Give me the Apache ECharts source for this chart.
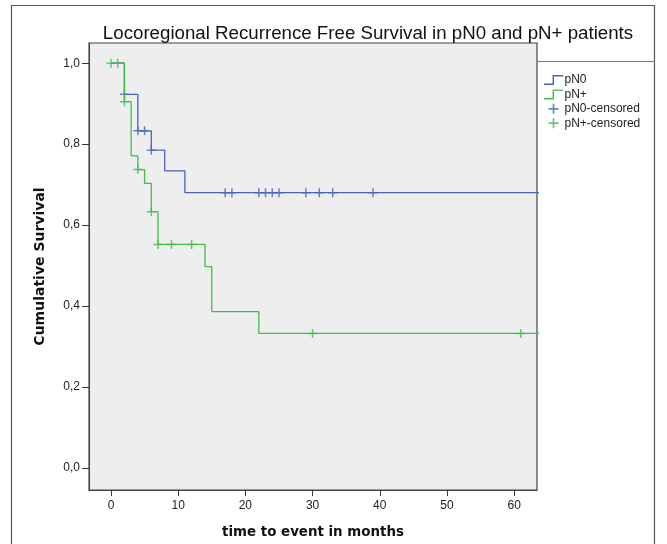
<!DOCTYPE html>
<html>
<head>
<meta charset="utf-8">
<script src="https://cdn.jsdelivr.net/npm/echarts@6/dist/echarts.min.js"></script>
<style>
  html, body { margin: 0; padding: 0; background: #ffffff; }
  #chart { width: 667px; height: 544px; }
</style>
</head>
<body>
<div id="chart"></div>
<script>
// Kaplan-Meier step points: [months, cumulative survival]
const pN0Steps = [[0, 1.0], [2, 0.923], [4, 0.833], [6, 0.785], [8, 0.734], [11, 0.680], [64, 0.680]];
const pNplusSteps = [[0, 1.0], [2, 0.905], [3, 0.771], [4, 0.737], [5, 0.703], [6, 0.633], [7, 0.552], [14, 0.497], [15, 0.386], [22, 0.332], [64, 0.332]];

// Censored observations
const pN0Censored = [[2, 0.923], [4, 0.833], [5, 0.833], [6, 0.785], [17, 0.680], [18, 0.680], [22, 0.680], [23, 0.680], [24, 0.680], [25, 0.680], [29, 0.680], [31, 0.680], [33, 0.680], [39, 0.680]];
const pNplusCensored = [[0, 1.0], [1, 1.0], [2, 0.905], [4, 0.737], [6, 0.633], [7, 0.552], [9, 0.552], [12, 0.552], [30, 0.332], [61, 0.332]];

const xTicks = [0, 10, 20, 30, 40, 50, 60];
const yTicks = [0, 0.2, 0.4, 0.6, 0.8, 1.0];

const blue = '#4a64b8';
const green = '#3fbf4b';

const plusIcon = 'path://M5,0H7V5H12V7H7V12H5V7H0V5H5Z';
const stepIcon = 'path://M0,9H9V0H20V1.5H10.5V10.5H0Z';

const chart = echarts.init(document.getElementById('chart'));
const sans = 'Liberation Sans, Arial, sans-serif';
const axisFont = { color: '#222', fontSize: 12, fontFamily: sans };

chart.setOption({
  animation: false,
  backgroundColor: '#ffffff',
  title: {
    text: 'Locoregional Recurrence Free Survival in pN0 and pN+ patients',
    left: 363, top: 19, textAlign: 'center',
    textStyle: { fontSize: 18.7, fontWeight: 'normal', color: '#111', fontFamily: sans }
  },
  graphic: [
    { type: 'rect', shape: { x: 11.5, y: 5.5, width: 643, height: 560 }, style: { fill: 'none', stroke: '#555', lineWidth: 1.2 }, silent: true },
    { type: 'line', shape: { x1: 537, y1: 61.5, x2: 655, y2: 61.5 }, style: { stroke: '#777', lineWidth: 1 }, silent: true }
  ],
  legend: {
    orient: 'vertical',
    left: 539, top: 69,
    itemWidth: 20, itemHeight: 10, itemGap: 2.4,
    textStyle: { fontSize: 12, color: '#222', fontFamily: sans, padding: [0, 0, 0, -4] },
    data: [
      { name: 'pN0', icon: stepIcon },
      { name: 'pN+', icon: stepIcon },
      { name: 'pN0-censored', icon: plusIcon },
      { name: 'pN+-censored', icon: plusIcon }
    ]
  },
  grid: {
    left: 89, top: 43, right: 130, bottom: 53,
    show: true, backgroundColor: '#eeeeee', borderColor: '#444', borderWidth: 1.2
  },
  xAxis: {
    type: 'value', min: -3.27, max: 63.4,
    name: 'time to event in months', nameLocation: 'middle', nameGap: 36,
    nameTextStyle: { fontSize: 13.4, fontWeight: 'bold', color: '#111', fontFamily: 'DejaVu Sans, sans-serif' },
    axisLine: { show: true, onZero: false, lineStyle: { color: '#444' } },
    axisTick: { show: true, length: 6, customValues: xTicks, lineStyle: { color: '#333' } },
    axisLabel: { ...axisFont, margin: 10, customValues: xTicks },
    splitLine: { show: false }
  },
  yAxis: {
    type: 'value', min: -0.055, max: 1.05,
    name: 'Cumulative Survival', nameLocation: 'middle', nameGap: 42,
    nameTextStyle: { fontSize: 14, fontWeight: 'bold', color: '#111', fontFamily: 'DejaVu Sans, sans-serif' },
    axisLine: { show: true, onZero: false, lineStyle: { color: '#444' } },
    axisTick: { show: true, length: 7, customValues: yTicks, lineStyle: { color: '#333' } },
    axisLabel: { ...axisFont, margin: 9, customValues: yTicks, formatter: v => v.toFixed(1).replace('.', ',') },
    splitLine: { show: false }
  },
  series: [
    { name: 'pN0', type: 'line', step: 'end', data: pN0Steps, symbol: 'none', itemStyle: { color: blue }, lineStyle: { color: blue, width: 1.3 } },
    { name: 'pN+', type: 'line', step: 'end', data: pNplusSteps, symbol: 'none', itemStyle: { color: green }, lineStyle: { color: green, width: 1.3 } },
    { name: 'pN0-censored', type: 'scatter', data: pN0Censored, symbol: plusIcon, symbolSize: 9, itemStyle: { color: blue } },
    { name: 'pN+-censored', type: 'scatter', data: pNplusCensored, symbol: plusIcon, symbolSize: 9, itemStyle: { color: green } }
  ]
});
</script>
</body>
</html>
